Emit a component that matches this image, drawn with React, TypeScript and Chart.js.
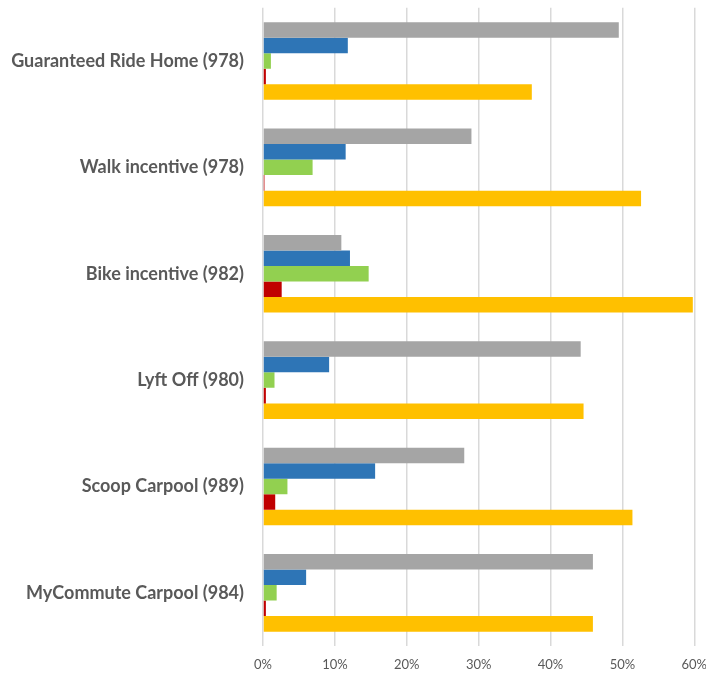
import React, { useEffect, useRef } from "react";
import { Chart, registerables } from "chart.js";

Chart.register(...registerables);

const categories = [
  "Guaranteed Ride Home (978)",
  "Walk incentive (978)",
  "Bike incentive (982)",
  "Lyft Off (980)",
  "Scoop Carpool (989)",
  "MyCommute Carpool (984)",
];

const seriesGray = [49.5, 29.0, 10.9, 44.2, 28.0, 45.9];
const seriesBlue = [11.8, 11.5, 12.1, 9.2, 15.6, 6.0];
const seriesGreen = [1.1, 6.9, 14.7, 1.6, 3.4, 1.9];
const seriesRed = [0.4, 0.2, 2.6, 0.4, 1.7, 0.4];
const seriesYellow = [37.4, 52.6, 59.8, 44.6, 51.4, 45.9];

const xTicks = [0, 10, 20, 30, 40, 50, 60];

export default function App() {
  const ref = useRef<HTMLCanvasElement | null>(null);
  useEffect(() => {
    if (!ref.current) return;
    const mk = (label: string, data: number[], color: string) => ({
      label,
      data,
      backgroundColor: color,
      borderWidth: 0,
      barPercentage: 1,
      categoryPercentage: 0.73,
    });
    const chart = new Chart(ref.current, {
      type: "bar",
      data: {
        labels: categories,
        datasets: [
          mk("Gray", seriesGray, "#A5A5A5"),
          mk("Blue", seriesBlue, "#2E75B6"),
          mk("Green", seriesGreen, "#92D050"),
          mk("Red", seriesRed, "#C00000"),
          mk("Yellow", seriesYellow, "#FFC000"),
        ],
      },
      options: {
        indexAxis: "y",
        animation: false,
        responsive: false,
        maintainAspectRatio: false,
        layout: { padding: { top: -11, right: 2, bottom: 0, left: 0 } },
        plugins: { legend: { display: false }, tooltip: { enabled: false } },
        scales: {
          x: {
            min: 0,
            max: 60,
            afterBuildTicks: (s: any) => {
              s.ticks = xTicks.map((v) => ({ value: v }));
            },
            afterFit: (s: any) => {
              s.height = 32;
            },
            grid: { color: "#D9D9D9", lineWidth: 1.5, tickLength: 0, drawTicks: false },
            border: { display: false },
            ticks: {
              padding: 11,
              color: "#595959",
              font: { family: "Lato, 'Open Sans', sans-serif", size: 13 },
              callback: (v: any) => v + "%",
            },
          },
          y: {
            afterFit: (s: any) => {
              s.width = 263;
            },
            grid: { display: false },
            border: { display: false },
            ticks: {
              padding: 11,
              color: "#595959",
              font: { family: "Lato, 'Open Sans', sans-serif", size: 18, weight: "bold" },
            },
          },
        },
      },
    } as any);
    return () => chart.destroy();
  }, []);
  return (
    <div style={{ position: "absolute", left: 0, top: 0, width: 706, height: 675, overflow: "hidden", background: "#fff" }}>
      <canvas
        ref={ref}
        width={718}
        height={692}
        style={{ display: "block", position: "absolute", left: 0, top: -14 }}
      />
    </div>
  );
}
